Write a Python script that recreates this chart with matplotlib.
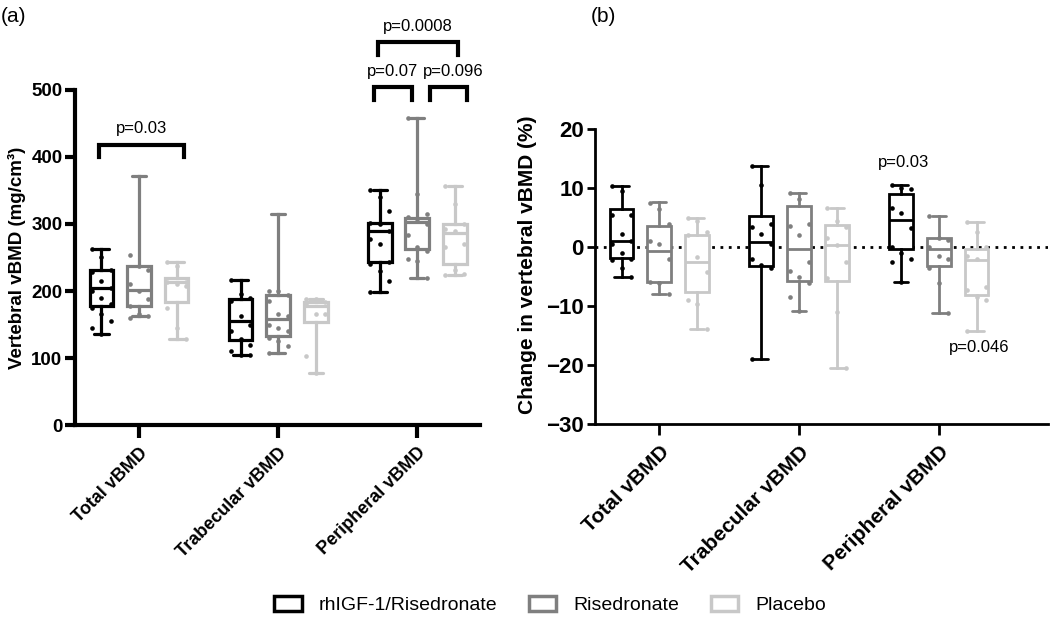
import matplotlib
matplotlib.use('Agg')
import matplotlib.pyplot as plt
import numpy as np
from matplotlib.patches import Patch

plt.rcParams['font.family'] = ['Liberation Sans', 'DejaVu Sans']

categories = ['Total vBMD', 'Trabecular vBMD', 'Peripheral vBMD']
groups = ['rhIGF-1/Risedronate', 'Risedronate', 'Placebo']
colors = ['#000000', '#7f7f7f', '#c8c8c8']

# panel (a): vertebral vBMD, rows = category, cols = group
a_min = [[136, 162, 128], [104, 108, 78], [199, 219, 224]]
a_q1 = [[177, 177, 184], [127, 133, 154], [244, 263, 241]]
a_med = [[204, 201, 214], [155, 158, 178], [289, 303, 286]]
a_q3 = [[232, 237, 220], [188, 194, 184], [301, 309, 300]]
a_max = [[262, 371, 244], [217, 315, 188], [351, 458, 356]]
a_points = [
    [[262, 250, 232, 228, 215, 204, 200, 190, 180, 175, 165, 155, 145, 136],
     [253, 237, 232, 210, 200, 188, 177, 165, 162, 160],
     [244, 238, 214, 213, 210, 208, 175, 145, 128]],
    [[217, 195, 190, 185, 162, 150, 140, 128, 120, 110, 105, 104],
     [200, 200, 194, 185, 165, 162, 150, 145, 140, 130, 125, 118, 108],
     [188, 188, 184, 180, 165, 165, 103, 78]],
    [[351, 340, 320, 301, 300, 290, 278, 270, 244, 240, 230, 215, 199],
     [458, 345, 315, 310, 305, 300, 283, 265, 260, 248, 245, 219],
     [356, 330, 300, 292, 290, 270, 266, 232, 226, 224]],
]

# panel (b): change in vertebral vBMD (%)
b_min = [[-5.1, -8.0, -13.9], [-18.9, -10.8, -20.4], [-5.9, -11.2, -14.2]]
b_q1 = [[-1.9, -5.9, -7.6], [-3.2, -5.7, -5.8], [-0.3, -3.2, -8.1]]
b_med = [[1.1, -0.6, -2.6], [0.9, -0.3, 0.4], [4.6, -0.3, -2.2]]
b_q3 = [[6.4, 3.6, 2.1], [5.3, 6.9, 3.7], [9.0, 1.5, -0.3]]
b_max = [[10.3, 7.6, 4.9], [13.7, 9.1, 6.7], [10.5, 5.3, 4.3]]
b_points = [
    [[10.3, 9.5, 5.5, 5.5, 2.2, 1.0, 0.5, -1.0, -2.0, -2.2, -3.5, -5.1],
     [7.5, 6.5, 4.0, 1.0, 0.5, -2.0, -5.9, -6.0, -8.0],
     [4.9, 4.5, 2.5, 2.0, -1.6, -4.2, -9.0, -9.6, -13.9]],
    [[13.7, 10.6, 4.0, 3.5, 2.3, 0.5, -2.0, -3.0, -3.5, -18.9],
     [9.1, 8.2, 4.0, 3.6, 2.0, -2.6, -4.0, -5.0, -6.0, -8.5, -10.8],
     [6.7, 4.5, 3.5, 1.5, 0.3, -2.6, -5.2, -11.0, -20.4]],
    [[10.5, 10.0, 9.8, 6.7, 5.8, 3.2, 0.0, -1.0, -2.0, -2.6, -5.9],
     [5.3, 1.5, 1.2, 0.0, -1.5, -2.0, -3.5, -6.0, -11.2],
     [4.3, 2.6, 0.0, -1.5, -2.0, -6.7, -7.2, -8.5, -9.0, -14.2]],
]

offsets = [-0.27, 0.0, 0.27]
box_w = 0.17


def draw_boxes(ax, lo, q1, med, q3, hi, points, lw):
    for c in range(len(categories)):
        for g in range(len(groups)):
            pos = c + offsets[g]
            col = colors[g]
            st = dict(whislo=lo[c][g], q1=q1[c][g], med=med[c][g],
                      q3=q3[c][g], whishi=hi[c][g])
            ax.bxp([st], positions=[pos], widths=box_w, showfliers=False,
                   capwidths=box_w * 0.6, patch_artist=True,
                   boxprops=dict(facecolor='white', edgecolor=col, linewidth=lw),
                   medianprops=dict(color=col, linewidth=lw),
                   whiskerprops=dict(color=col, linewidth=lw),
                   capprops=dict(color=col, linewidth=lw, solid_capstyle='round'))
            pts = points[c][g]
            jit = (np.arange(len(pts)) % 3 - 1) * box_w * 0.4
            ax.scatter(pos + jit, pts, s=11, color=col, zorder=3, linewidths=0)


def bracket(ax, x0, x1, ytop, ylow, lw=3):
    ax.plot([x0, x0, x1, x1], [ylow, ytop, ytop, ylow], color='k', lw=lw,
            clip_on=False, solid_joinstyle='miter')


fig = plt.figure(figsize=(10.5, 6.21), dpi=100)

# ---- panel (a)
ax1 = fig.add_axes([0.0714, 0.3156, 0.3857, 0.5395])
draw_boxes(ax1, a_min, a_q1, a_med, a_q3, a_max, a_points, 2.3)
ax1.set_ylim(0, 500)
ax1.set_xlim(-0.46, 2.45)
ax1.set_yticks([0, 100, 200, 300, 400, 500])
ax1.set_xticks(range(3))
ax1.set_xticklabels(categories, rotation=45, ha='right', rotation_mode='anchor',
                    fontsize=13, fontweight='bold')
for lab in ax1.get_yticklabels():
    lab.set_fontweight('bold')
    lab.set_fontsize(13.5)
ax1.set_ylabel('Vertebral vBMD (mg/cm³)', fontsize=13.5, fontweight='bold', labelpad=4)
for s in ['top', 'right']:
    ax1.spines[s].set_visible(False)
for s in ['left', 'bottom']:
    ax1.spines[s].set_linewidth(3)
ax1.tick_params(axis='y', width=3, length=7, pad=2)
ax1.tick_params(axis='x', width=3, length=9, pad=5)

bracket(ax1, -0.29, 0.32, 418, 400)
ax1.text(0.02, 432, 'p=0.03', ha='center', va='bottom', fontsize=12)
bracket(ax1, 2 - 0.31, 2 - 0.04, 504, 485)
bracket(ax1, 2 + 0.09, 2 + 0.36, 504, 485)
ax1.text(2 - 0.18, 516, 'p=0.07', ha='center', va='bottom', fontsize=12, clip_on=False)
ax1.text(2 + 0.26, 516, 'p=0.096', ha='center', va='bottom', fontsize=12, clip_on=False)
bracket(ax1, 2 - 0.28, 2 + 0.29, 572, 552)
ax1.text(2.0, 584, 'p=0.0008', ha='center', va='bottom', fontsize=12, clip_on=False)

# ---- panel (b)
ax2 = fig.add_axes([0.5667, 0.317, 0.4313, 0.475])
draw_boxes(ax2, b_min, b_q1, b_med, b_q3, b_max, b_points, 2.0)
ax2.set_ylim(-30, 20)
ax2.set_xlim(-0.46, 2.78)
ax2.axhline(0, color='k', lw=2, ls=(0, (1, 2)), zorder=1)
ax2.set_yticks([-30, -20, -10, 0, 10, 20])
ax2.set_xticks(range(3))
ax2.set_xticklabels(categories, rotation=45, ha='right', rotation_mode='anchor',
                    fontsize=15, fontweight='bold')
for lab in ax2.get_yticklabels():
    lab.set_fontweight('bold')
    lab.set_fontsize(16)
ax2.set_ylabel('Change in vertebral vBMD (%)', fontsize=15, fontweight='bold')
ax2.yaxis.set_label_coords(-0.128, 0.54)
for s in ['top', 'right']:
    ax2.spines[s].set_visible(False)
for s in ['left', 'bottom']:
    ax2.spines[s].set_linewidth(2)
ax2.tick_params(axis='y', width=2, length=6, pad=2)
ax2.tick_params(axis='x', width=2, length=8, pad=5)
ax2.text(1.75, 13.0, 'p=0.03', ha='center', va='bottom', fontsize=12)
ax2.text(2.29, -18.3, 'p=0.046', ha='center', va='bottom', fontsize=12)

fig.text(0.001, 0.974, '(a)', fontsize=15, va='center')
fig.text(0.563, 0.974, '(b)', fontsize=15, va='center')

handles = [Patch(facecolor='white', edgecolor=c, linewidth=2.5) for c in colors]
fig.legend(handles, groups, loc='center', bbox_to_anchor=(0.524, 0.026), ncol=3,
           frameon=False, fontsize=14, handlelength=1.4, handleheight=0.8,
           columnspacing=1.6, handletextpad=0.9)

fig.savefig('out.png', dpi=100)
